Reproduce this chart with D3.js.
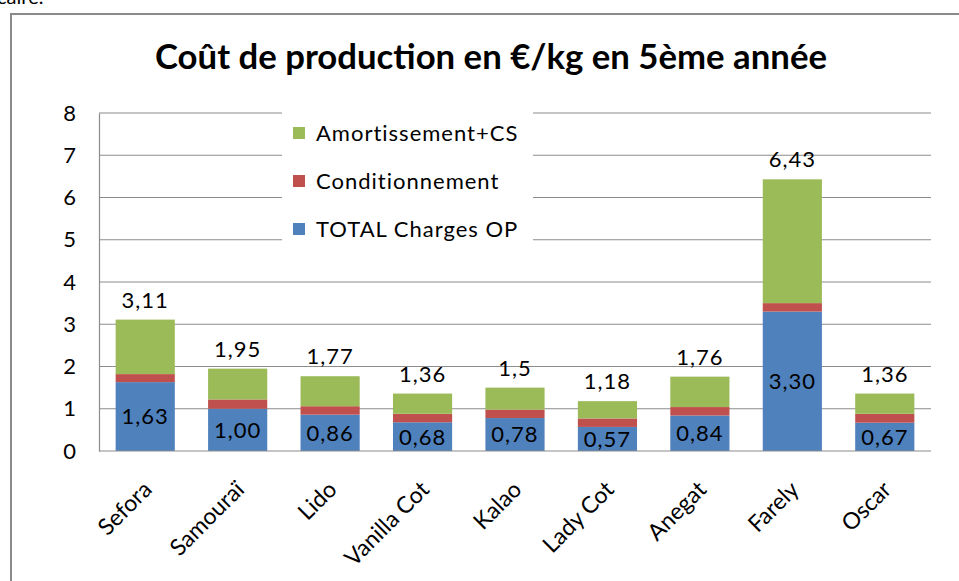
<!DOCTYPE html>
<html>
<head>
<meta charset="utf-8">
<script src="https://cdn.jsdelivr.net/npm/d3@7"></script>
<style>
  body { margin: 0; background: #fff; }
  svg text { font-family: Lato, "Open Sans", sans-serif; fill: #000; }
</style>
</head>
<body>
<div id="chart"></div>
<script>

// data
var categories = ["Sefora", "Samouraï", "Lido", "Vanilla Cot", "Kalao", "Lady Cot", "Anegat", "Farely", "Oscar"];
var chargesOP = [1.63, 1.00, 0.86, 0.68, 0.78, 0.57, 0.84, 3.30, 0.67];
var conditionnement = [0.19, 0.22, 0.20, 0.20, 0.20, 0.20, 0.20, 0.20, 0.21];
var amortissement = [1.29, 0.73, 0.71, 0.48, 0.52, 0.41, 0.72, 2.93, 0.48];
var yTicks = [0, 1, 2, 3, 4, 5, 6, 7, 8];
var seriesNames = ["TOTAL Charges OP", "Conditionnement", "Amortissement+CS"];
var seriesColors = ["#4F81BD", "#C0504D", "#9BBB59"];

var width = 959, height = 581;
var margin = {top: 113, right: 28, bottom: 130, left: 99};

var svg = d3.select("#chart").append("svg")
    .attr("width", width)
    .attr("height", height);

// bit of cell text cut off above the chart
svg.append("text")
    .attr("x", -3)
    .attr("y", 4)
    .attr("font-size", "20px")
    .text("caire.");

// chart border (right and bottom are outside the window)
svg.append("path")
    .attr("d", "M11,600 L11,14 L980,14")
    .attr("fill", "none")
    .attr("stroke", "#8a8a8a")
    .attr("stroke-width", 2);

// title, fitted to the width it has in the picture
var title = svg.append("text")
    .attr("x", 491)
    .attr("y", 69)
    .attr("text-anchor", "middle")
    .attr("font-weight", "bold")
    .attr("font-size", "28px")
    .text("Coût de production en €/kg en 5ème année");
var tw = title.node().getComputedTextLength();
title.attr("font-size", (28 * 672 / tw) + "px");

var x = d3.scaleBand()
    .domain(categories)
    .range([margin.left, width - margin.right])
    .paddingInner(0.36)
    .paddingOuter(0.18);

var y = d3.scaleLinear()
    .domain([0, 8])
    .range([height - margin.bottom, margin.top]);

// gridlines
svg.append("g")
    .selectAll("line")
    .data(yTicks.slice(1))
    .enter().append("line")
    .attr("x1", margin.left)
    .attr("x2", width - margin.right)
    .attr("y1", function(d){ return y(d); })
    .attr("y2", function(d){ return y(d); })
    .attr("stroke", "#8c8c8c")
    .attr("stroke-width", 1.2);

// y axis
var yAxis = svg.append("g")
    .attr("transform", "translate(" + margin.left + ",0)")
    .call(d3.axisLeft(y).tickValues(yTicks).tickSize(0).tickPadding(23));
yAxis.select(".domain").attr("stroke", "#8c8c8c").attr("stroke-width", 1.2);
yAxis.selectAll("text")
    .attr("font-size", "22px")
    .style("font-family", "Lato, sans-serif");

// stacked bars
var rows = categories.map(function(c, i){
    return {cat: c, op: chargesOP[i], cond: conditionnement[i], amort: amortissement[i]};
});
var stack = d3.stack().keys(["op", "cond", "amort"]);
var layers = stack(rows);

svg.append("g")
    .selectAll("g")
    .data(layers)
    .enter().append("g")
    .attr("fill", function(d, i){ return seriesColors[i]; })
    .selectAll("rect")
    .data(function(d){ return d; })
    .enter().append("rect")
    .attr("x", function(d){ return x(d.data.cat); })
    .attr("width", x.bandwidth())
    .attr("y", function(d){ return y(d[1]); })
    .attr("height", function(d){ return y(d[0]) - y(d[1]); });

// x axis line
svg.append("line")
    .attr("x1", margin.left)
    .attr("x2", width - margin.right)
    .attr("y1", y(0))
    .attr("y2", y(0))
    .attr("stroke", "#8c8c8c")
    .attr("stroke-width", 1.2);

var comma = function(s){ return s.replace(".", ","); };

// labels inside the blue part
svg.append("g")
    .selectAll("text")
    .data(rows)
    .enter().append("text")
    .attr("x", function(d){ return x(d.cat) + x.bandwidth() / 2; })
    .attr("y", function(d){ return (y(0) + y(d.op)) / 2; })
    .attr("dy", "0.36em")
    .attr("text-anchor", "middle")
    .attr("font-size", "22px")
    .attr("letter-spacing", "1px")
    .text(function(d){ return comma(d3.format(".2f")(d.op)); });

// totals above bars
svg.append("g")
    .selectAll("text")
    .data(rows)
    .enter().append("text")
    .attr("x", function(d){ return x(d.cat) + x.bandwidth() / 2; })
    .attr("y", function(d){ return y(d.op + d.cond + d.amort) - 12; })
    .attr("text-anchor", "middle")
    .attr("font-size", "22px")
    .attr("letter-spacing", "1px")
    .text(function(d){ return comma(d3.format(".2~f")(d.op + d.cond + d.amort)); });

// category labels
svg.append("g")
    .selectAll("text")
    .data(categories)
    .enter().append("text")
    .attr("text-anchor", "end")
    .attr("font-size", "23px")
    .attr("transform", function(d){
        return "translate(" + (x(d) + x.bandwidth() / 2 + 8) + "," + (y(0) + 40) + ") rotate(-45)";
    })
    .text(function(d){ return d; });

// legend
var legend = svg.append("g").attr("transform", "translate(282,106)");
legend.append("rect")
    .attr("width", 251)
    .attr("height", 146)
    .attr("fill", "#fff");
var entries = legend.selectAll("g")
    .data([2, 1, 0])
    .enter().append("g")
    .attr("transform", function(d, i){ return "translate(11," + (27 + i * 48) + ")"; });
entries.append("rect")
    .attr("y", -6)
    .attr("width", 12)
    .attr("height", 12)
    .attr("fill", function(d){ return seriesColors[d]; });
entries.append("text")
    .attr("x", 23)
    .attr("dy", "0.36em")
    .attr("font-size", "22px")
    .attr("letter-spacing", "1px")
    .text(function(d){ return seriesNames[d]; });

</script>
</body>
</html>
